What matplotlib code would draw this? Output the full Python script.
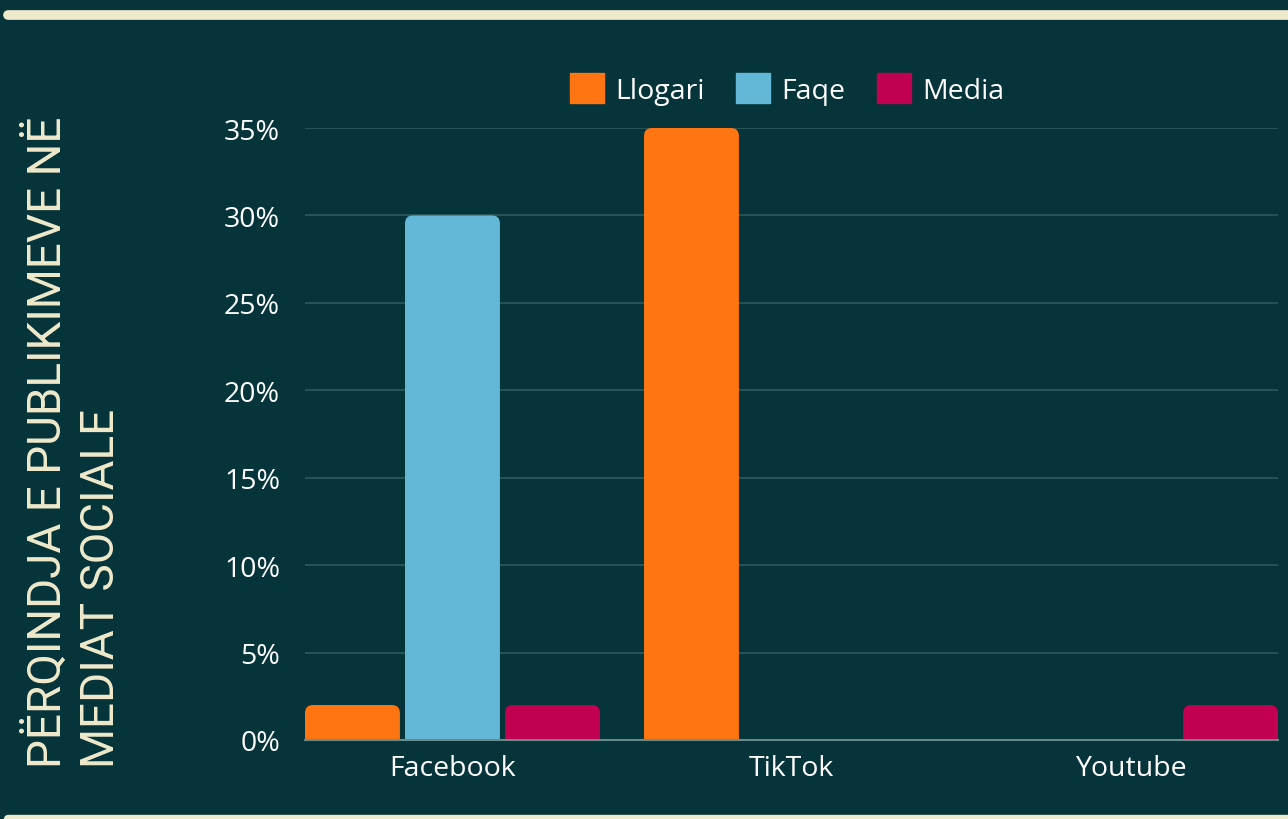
import matplotlib.pyplot as plt
from matplotlib.patches import FancyBboxPatch
from matplotlib.lines import Line2D
import numpy as np

# Data
platforms = ['Facebook', 'TikTok', 'Youtube']
series_names = ['Llogari', 'Faqe', 'Media']
llogari = [2, 35, 0]
faqe = [30, 0, 0]
media = [2, 0, 2]
yticks = [0, 5, 10, 15, 20, 25, 30, 35]

colors = ['#FF7512', '#63B8D8', '#C10052']
bg = '#05343A'
cream = '#F0EACC'

fig = plt.figure(figsize=(12.88, 8.2), dpi=100, facecolor=bg)
ax = fig.add_axes([305 / 1288, 1 - 741 / 820, 973 / 1288, 612 / 820])
ax.set_facecolor(bg)

x = np.arange(len(platforms))
width = 0.28
step = 0.295
px_x = 339.0          # pixels per x unit
px_y = 612 / 35.0     # pixels per y unit
r = 8 / px_x
aspect = (8 / px_y) / r

for i, (name, vals) in enumerate(zip(series_names, [llogari, faqe, media])):
    for xi, v in zip(x, vals):
        if v <= 0:
            continue
        left = xi + (i - 1) * step - width / 2
        bottom = -1.0
        patch = FancyBboxPatch((left, bottom), width, v - bottom,
                               boxstyle=f"round,pad=0,rounding_size={r}",
                               mutation_aspect=aspect, facecolor=colors[i],
                               edgecolor='none', zorder=3)
        ax.add_patch(patch)

ax.set_xlim(-0.435, 2.435)
ax.set_ylim(0, 35)
ax.set_yticks(yticks)
ax.set_yticklabels([f'{t}%' for t in yticks])
ax.set_xticks(x)
ax.set_xticklabels(platforms)
ax.tick_params(length=0, colors='white', labelsize=20.5)
ax.tick_params(axis='y', pad=18)
ax.tick_params(axis='x', pad=10)
for lab in ax.get_xticklabels() + ax.get_yticklabels():
    lab.set_fontfamily('Open Sans')

ax.grid(axis='y', color='#2C5A5D', linewidth=1.2, zorder=0)
for s in ['top', 'right', 'left']:
    ax.spines[s].set_visible(False)
ax.spines['bottom'].set_color('#6A8A8C')
ax.spines['bottom'].set_linewidth(1.5)
ax.spines['bottom'].set_zorder(4)

# Legend
handles = [plt.Rectangle((0, 0), 1, 1, color=c) for c in colors]
leg = fig.legend(handles, series_names, loc='center',
                 bbox_to_anchor=(787 / 1288, 1 - 90 / 820), ncol=3,
                 frameon=False, handlelength=1.2, handleheight=1.2,
                 handletextpad=0.4, columnspacing=1.1,
                 prop={'family': 'Open Sans', 'size': 20.5})
for t in leg.get_texts():
    t.set_color('white')

# Y-axis title
fig.text(24 / 1288, 1 - 768 / 820, 'PËRQINDJA E PUBLIKIMEVE NË\nMEDIAT SOCIALE',
         rotation=90, ha='left', va='bottom', multialignment='left',
         color=cream, fontsize=33, family='Roboto', fontweight='normal',
         linespacing=1.25)

# Decorative cream lines
fig.add_artist(Line2D([8 / 1288, 1.02], [1 - 16 / 820] * 2, color=cream,
                      linewidth=7, solid_capstyle='round',
                      transform=fig.transFigure))
fig.add_artist(Line2D([8 / 1288, 1.02], [1 - 820 / 820] * 2, color=cream,
                      linewidth=6, solid_capstyle='round',
                      transform=fig.transFigure))

fig.savefig('out.png', dpi=100, facecolor=bg)
